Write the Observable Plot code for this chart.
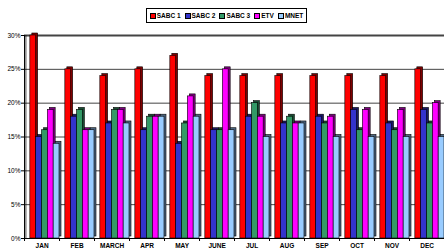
<!DOCTYPE html>
<html>
<head>
<meta charset="utf-8">
<script src="https://cdn.jsdelivr.net/npm/d3@7"></script>
<script src="https://cdn.jsdelivr.net/npm/@observablehq/plot@0.6"></script>
<style>
  html, body { margin: 0; padding: 0; background: #fff; }
  #wrap { position: relative; width: 444px; height: 252px; overflow: hidden; font-family: "Liberation Sans", Arial, sans-serif; }
  #legend { position: absolute; left: 146px; top: 8px; width: 159px; height: 13px; border: 1px solid #000; display: flex; align-items: center; justify-content: center; gap: 4px; font-size: 6.5px; font-weight: bold; background: #fff; }
  #legend span.sw { display: inline-block; width: 4px; height: 4px; border: 1px solid #000; margin-right: 1px; vertical-align: middle; }
  #legend .it { display: flex; align-items: center; white-space: nowrap; }
  #chart { position: absolute; left: 0; top: 28px; }
</style>
</head>
<body>
<div id="wrap">
  <div id="legend"></div>
  <div id="chart"></div>
</div>
<script>
const months = ["JAN","FEB","MARCH","APR","MAY","JUNE","JUL","AUG","SEP","OCT","NOV","DEC"];
const series = ["SABC 1","SABC 2","SABC 3","ETV","MNET"];
const sabc1 = [30,25,24,25,27,24,24,24,24,24,24,25];
const sabc2 = [15,18,17,16,14,16,18,17,18,19,17,19];
const sabc3 = [16,19,19,18,17,16,20,18,17,16,16,17];
const etv   = [19,16,19,18,21,25,18,17,18,19,19,20];
const mnet  = [14,16,17,18,18,16,15,17,15,15,15,15];
const yTicks = [0,5,10,15,20,25,30];

const colors = {"SABC 1":"#ff0000","SABC 2":"#3333cc","SABC 3":"#339966","ETV":"#ff00ff","MNET":"#99ccff"};
const darks  = {"SABC 1":"#800000","SABC 2":"#1a1a66","SABC 3":"#1a4d33","ETV":"#800080","MNET":"#4d6680"};

const valuesBySeries = [sabc1, sabc2, sabc3, etv, mnet];
const table = [];
months.forEach((m, i) => {
  series.forEach((s, j) => {
    table.push({month: m, series: s, key: m + "_" + j, value: valuesBySeries[j][i]});
  });
});
const keys = [];
months.forEach(m => { keys.push(m + "_g"); series.forEach((s, j) => keys.push(m + "_" + j)); });
const gapKeys = months.map(m => m + "_g");

// legend
const lg = document.getElementById("legend");
series.forEach(s => {
  const it = document.createElement("span");
  it.className = "it";
  const sw = document.createElement("span");
  sw.className = "sw";
  sw.style.background = colors[s];
  it.appendChild(sw);
  it.appendChild(document.createTextNode(s));
  lg.appendChild(it);
});

const plot = Plot.plot({
  width: 444,
  height: 224,
  marginLeft: 24,
  marginRight: 0,
  marginTop: 7,
  marginBottom: 14,
  style: {fontFamily: "'Liberation Sans', Arial, sans-serif", fontSize: "6.5px", background: "#fff"},
  x: {type: "band", domain: keys, padding: 0, axis: null, label: null},
  y: {domain: [0, 30], axis: null, label: null},
  color: {type: "identity"},
  marks: [
    Plot.ruleY([5,10,15,20,25], {stroke: "#444", strokeWidth: 1}),
    Plot.ruleY([30], {stroke: "#444", strokeWidth: 2}),
    Plot.axisY({ticks: yTicks, tickFormat: d => d + "%", tickSize: 3, tickPadding: 1, fill: "#000", label: null}),
    Plot.ruleX([gapKeys[0]], {dx: -2.9, stroke: "#000", strokeWidth: 1}),
    Plot.ruleX([gapKeys[0]], {dx: -1.5, stroke: "#000", strokeWidth: 0.7}),
    Plot.barY(table, {x: "key", y: "value", fill: d => darks[d.series], stroke: "#000", strokeWidth: 0.6, dx: 2, dy: -2}),
    Plot.barY(table, {x: "key", y: "value", fill: d => colors[d.series], stroke: "#000", strokeWidth: 0.6}),
    Plot.ruleY([0], {stroke: "#000", strokeWidth: 1.2}),
    Plot.axisX({ticks: gapKeys, tickFormat: () => "", tickSize: 3, dx: -2.9, label: null}),
    Plot.text(months, {x: d => d + "_1", frameAnchor: "bottom", dy: 9, dx: 3, text: d => d, fontWeight: "bold", fill: "#000"})
  ]
});
document.getElementById("chart").appendChild(plot);
</script>
</body>
</html>
